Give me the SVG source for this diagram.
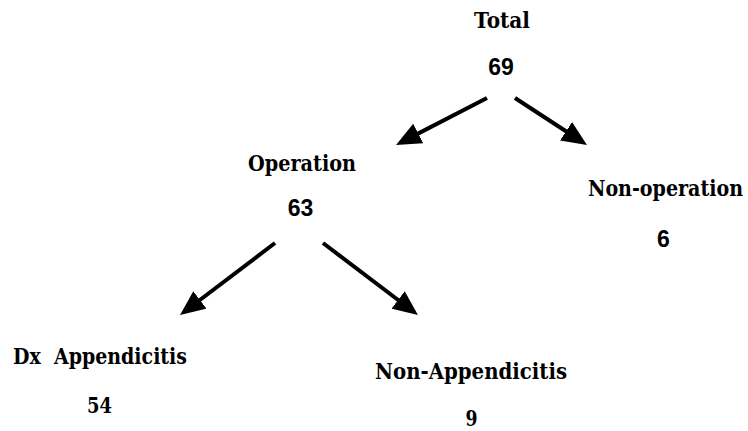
<svg xmlns="http://www.w3.org/2000/svg" width="748" height="431" viewBox="0 0 748 431">
<style>
.lbl{font-family:"DejaVu Serif","Liberation Serif",serif;font-weight:bold;font-size:22px;fill:#000;text-anchor:middle}
.num{font-family:"Liberation Sans",Arial,sans-serif;font-weight:bold;font-size:23px;fill:#000;text-anchor:middle}
.snum{font-family:"DejaVu Serif","Liberation Serif",serif;font-weight:bold;font-size:22px;fill:#000;text-anchor:middle}
.arr{stroke:#000;stroke-width:4;fill:none;marker-end:url(#ah)}
</style>
<defs>
<marker id="ah" markerUnits="userSpaceOnUse" markerWidth="25" markerHeight="22" refX="15" refY="11" orient="auto" viewBox="0 0 25 22">
<path d="M0,0 L25,11 L0,22 z" fill="#000"/>
</marker>
</defs>
<rect width="748" height="431" fill="#fff"/>
<g id="connectors">
<line class="arr" x1="487" y1="98" x2="404.9" y2="140.4"/>
<line class="arr" x1="515" y1="98" x2="578.6" y2="139.5"/>
<line class="arr" x1="275" y1="243" x2="188" y2="309"/>
<line class="arr" x1="323" y1="243" x2="410" y2="309"/>
</g>
<g id="total">
<text class="lbl" x="502" y="28" textLength="56" lengthAdjust="spacingAndGlyphs">Total</text>
<text class="num" x="501" y="75">69</text>
</g>
<g id="operation">
<text class="lbl" x="302" y="171" textLength="108" lengthAdjust="spacingAndGlyphs">Operation</text>
<text class="num" x="300.5" y="216">63</text>
</g>
<g id="non-operation">
<text class="lbl" transform="translate(665.5,196) scale(0.852,1)" x="0" y="0" textLength="182" lengthAdjust="spacingAndGlyphs">Non-operation</text>
<text class="num" x="663.5" y="247">6</text>
</g>
<g id="dx-appendicitis">
<text class="lbl" x="100" y="364" textLength="174" lengthAdjust="spacingAndGlyphs" xml:space="preserve">Dx  Appendicitis</text>
<text class="snum" x="99.5" y="413" textLength="25" lengthAdjust="spacingAndGlyphs">54</text>
</g>
<g id="non-appendicitis">
<text class="lbl" x="471" y="379" textLength="192" lengthAdjust="spacingAndGlyphs">Non-Appendicitis</text>
<text class="snum" x="471.5" y="426" textLength="12" lengthAdjust="spacingAndGlyphs">9</text>
</g>
</svg>
